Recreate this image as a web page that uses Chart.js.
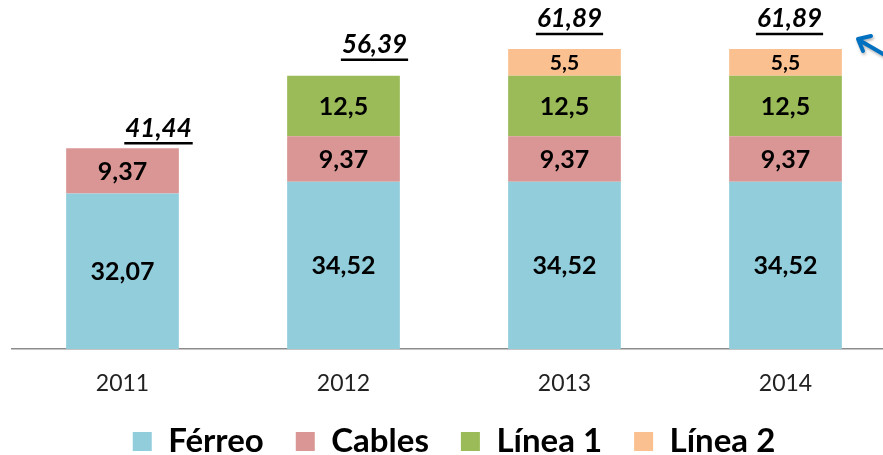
<html>
<head>
    <title>Inversión por año</title>
    <style>
        body { margin: 0; overflow: hidden; background: #fff; }
        #wrap { width: 900px; height: 455px; }
    </style>
</head>
<body>
    <div id="wrap">
        <canvas id="grafico"></canvas>
    </div>

    <script src="https://cdn.jsdelivr.net/npm/chart.js"></script>

    <script>
        // datos
        const anios = ['2011', '2012', '2013', '2014'];
        const ferreo = [32.07, 34.52, 34.52, 34.52];
        const cables = [9.37, 9.37, 9.37, 9.37];
        const linea1 = [null, 12.5, 12.5, 12.5];
        const linea2 = [null, null, 5.5, 5.5];

        // desplazamiento de las etiquetas de total (px)
        const totalDx = [36, 31, 5, 4];
        const totalDy = [20, 31, 30, 30];

        const fmt = v => String(v).replace('.', ',');

        // etiquetas dentro de cada tramo
        const etiquetasTramo = {
            id: 'etiquetasTramo',
            afterDatasetsDraw(chart) {
                const ctx = chart.ctx;
                ctx.save();
                ctx.textAlign = 'center';
                ctx.textBaseline = 'middle';
                ctx.fillStyle = '#000';
                chart.data.datasets.forEach((ds, i) => {
                    const meta = chart.getDatasetMeta(i);
                    const size = i === 3 ? 21 : 25;
                    ctx.font = 'bold ' + size + 'px Lato';
                    meta.data.forEach((bar, j) => {
                        const v = ds.data[j];
                        if (v == null) return;
                        ctx.fillText(fmt(v), bar.x, (bar.y + bar.base) / 2 + 1);
                    });
                });
                ctx.restore();
            }
        };

        // totales subrayados encima de cada barra
        const totales = {
            id: 'totales',
            afterDraw(chart) {
                const ctx = chart.ctx;
                const y = chart.scales.y;
                const x = chart.scales.x;
                ctx.save();
                ctx.font = 'italic bold 26px Lato';
                ctx.textAlign = 'center';
                ctx.textBaseline = 'middle';
                ctx.fillStyle = '#000';
                ctx.strokeStyle = '#000';
                ctx.lineWidth = 2.5;
                anios.forEach((a, j) => {
                    let t = 0;
                    chart.data.datasets.forEach(ds => { t += ds.data[j] || 0; });
                    t = Math.round(t * 100) / 100;
                    const cx = x.getPixelForValue(j) + totalDx[j];
                    const cy = y.getPixelForValue(t) - totalDy[j];
                    const txt = fmt(t);
                    ctx.fillText(txt, cx, cy);
                    const w = ctx.measureText(txt).width;
                    ctx.beginPath();
                    ctx.moveTo(cx - w / 2 - 1, cy + 15);
                    ctx.lineTo(cx + w / 2 + 1, cy + 15);
                    ctx.stroke();
                });

                // flecha azul de la esquina
                ctx.strokeStyle = '#0070C0';
                ctx.lineWidth = 4;
                ctx.lineCap = 'round';
                ctx.lineJoin = 'round';
                ctx.shadowColor = 'rgba(0,0,0,0.3)';
                ctx.shadowBlur = 3;
                ctx.shadowOffsetX = 1;
                ctx.shadowOffsetY = 2;
                ctx.beginPath();
                ctx.moveTo(890, 58);
                ctx.lineTo(859, 40);
                ctx.moveTo(871, 36);
                ctx.lineTo(858, 39);
                ctx.lineTo(863, 51);
                ctx.stroke();
                ctx.restore();
            }
        };

        const ctx = document.getElementById('grafico').getContext('2d');
        new Chart(ctx, {
            type: 'bar',
            data: {
                labels: anios,
                datasets: [
                    { label: 'Férreo', data: ferreo, backgroundColor: '#92CDDC' },
                    { label: 'Cables', data: cables, backgroundColor: '#DA9694' },
                    { label: 'Línea 1', data: linea1, backgroundColor: '#9BBB59' },
                    { label: 'Línea 2', data: linea2, backgroundColor: '#FAC090' }
                ]
            },
            options: {
                responsive: true,
                maintainAspectRatio: false,
                animation: false,
                layout: { padding: { left: 12, right: 4, top: 0, bottom: 0 } },
                datasets: { bar: { categoryPercentage: 1, barPercentage: 0.51 } },
                scales: {
                    x: {
                        stacked: true,
                        grid: { display: false, drawTicks: false },
                        border: { display: true, color: '#8C8C8C', width: 1.5 },
                        ticks: { color: '#222', padding: 21, font: { family: 'Lato', size: 23 } },
                        afterFit: s => { s.height = 44; }
                    },
                    y: {
                        stacked: true,
                        display: false,
                        min: 0,
                        max: 72
                    }
                },
                plugins: {
                    tooltip: { enabled: false },
                    legend: {
                        position: 'bottom',
                        maxHeight: 62,
                        labels: {
                            boxWidth: 19,
                            boxHeight: 19,
                            padding: 32,
                            color: '#000',
                            font: { family: 'Lato', size: 33, weight: 'bold', lineHeight: 1 }
                        }
                    }
                }
            },
            plugins: [etiquetasTramo, totales]
        });
    </script>
</body>
</html>
